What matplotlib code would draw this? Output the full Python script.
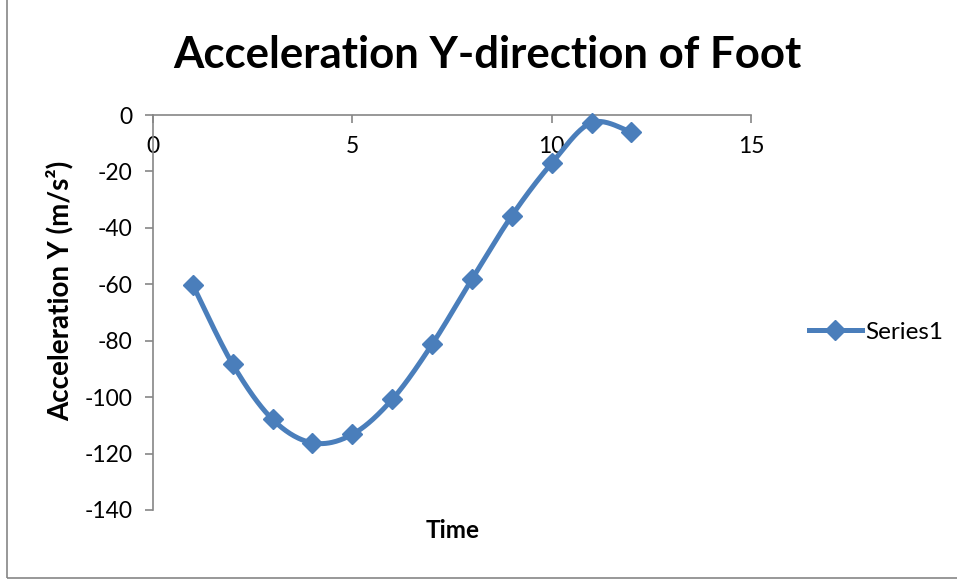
import numpy as np
import matplotlib
matplotlib.use("Agg")
import matplotlib.pyplot as plt
from matplotlib.patches import Rectangle

# Foot acceleration samples
time = [1, 2, 3, 4, 5, 6, 7, 8, 9, 10, 11, 12]
accel_y = [-60.3, -88.4, -107.9, -116.2, -113.2, -100.8, -81.3, -58.2, -35.7, -17.1, -2.7, -6.1]

x_ticks = [0, 5, 10, 15]
y_ticks = [0, -20, -40, -60, -80, -100, -120, -140]

BLUE = "#4A7EBB"
GRAY = "#868686"
FONT = "Lato"


def smooth_curve(xs, ys, n=40):
    """Cardinal (Catmull-Rom style) Bezier smoothing through the points."""
    p = np.column_stack([xs, ys]).astype(float)
    out = []
    for i in range(len(p) - 1):
        p0 = p[i - 1] if i > 0 else p[i]
        p1, p2 = p[i], p[i + 1]
        p3 = p[i + 2] if i + 2 < len(p) else p[i + 1]
        c1 = p1 + (p2 - p0) / 6.0
        c2 = p2 - (p3 - p1) / 6.0
        t = np.linspace(0, 1, n)[:, None]
        seg = ((1 - t) ** 3) * p1 + 3 * ((1 - t) ** 2) * t * c1 + 3 * (1 - t) * t ** 2 * c2 + t ** 3 * p2
        out.append(seg if i == 0 else seg[1:])
    s = np.vstack(out)
    return s[:, 0], s[:, 1]


fig = plt.figure(figsize=(9.57, 5.79), dpi=100)
W, H = 957, 579

# outer chart border
fig.patches.append(Rectangle((7 / W, 1 / H), (W + 10) / W, (H + 10) / H,
                             transform=fig.transFigure, fill=False,
                             edgecolor=GRAY, linewidth=1.2))

ax = fig.add_axes([153 / W, 1 - 510 / H, (751 - 153) / W, (510 - 115) / H])
ax.set_xlim(0, 15)
ax.set_ylim(-140, 0)

sx, sy = smooth_curve(time, accel_y)
ax.plot(sx, sy, color=BLUE, linewidth=3.6, solid_capstyle="round", zorder=3)
ax.plot(time, accel_y, linestyle="none", marker="D", markersize=10,
        color=BLUE, zorder=4, clip_on=False)

# legend entry
ax.plot([], [], color=BLUE, linewidth=3.6, marker="D", markersize=10, label="Series1")
leg = ax.legend(loc="center left", bbox_to_anchor=(1.08, 0.45), frameon=False,
                prop={"family": FONT, "size": 17.5}, handlelength=2.2,
                handletextpad=0.15, borderaxespad=0)

# axes crossing at y = 0 along the top
ax.spines["top"].set_visible(False)
ax.spines["right"].set_visible(False)
ax.spines["bottom"].set_position(("data", 0))
for sp in ("bottom", "left"):
    ax.spines[sp].set_color(GRAY)
    ax.spines[sp].set_linewidth(1.2)

ax.set_xticks(x_ticks)
ax.set_yticks(y_ticks)
ax.set_xticklabels([str(v) for v in x_ticks], family=FONT, fontsize=16.5)
ax.set_yticklabels([str(v) for v in y_ticks], family=FONT, fontsize=16.5)
ax.tick_params(axis="both", direction="out", length=6, width=1.2, color=GRAY)
ax.tick_params(axis="x", pad=9)
ax.tick_params(axis="y", pad=9)

fig.text(487 / W, 1 - 55 / H, "Acceleration Y-direction of Foot", ha="center", va="center",
         family=FONT, fontsize=31.5, fontweight="bold")
fig.text(453 / W, 1 - 531 / H, "Time", ha="center", va="center",
         family=FONT, fontsize=17.5, fontweight="bold")
fig.text(60 / W, 1 - 291 / H, "Acceleration Y (m/s²)", ha="center", va="center",
         rotation=90, family=FONT, fontsize=20, fontweight="bold")

fig.savefig("out.png", dpi=100)
